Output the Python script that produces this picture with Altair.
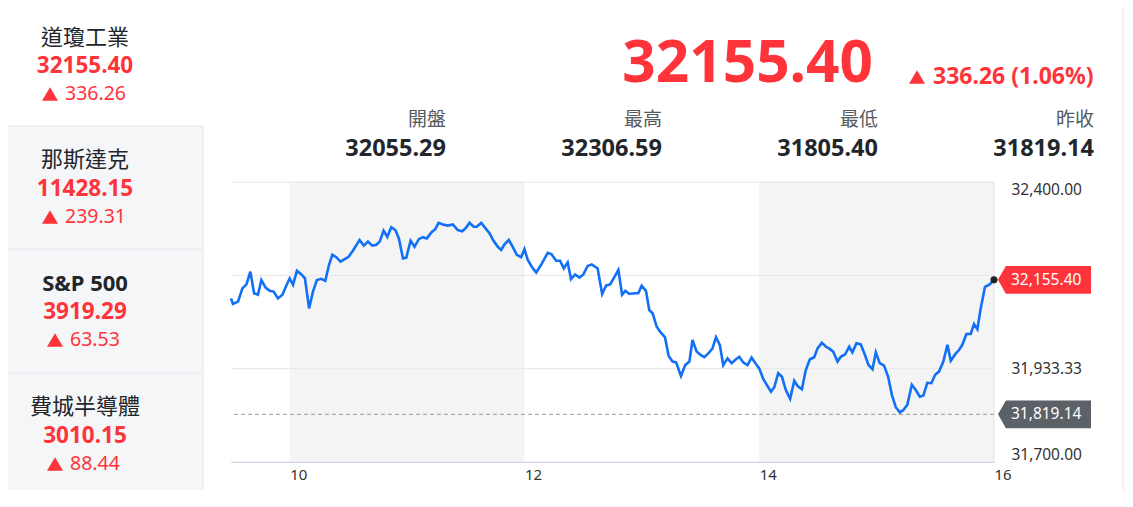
import altair as alt
import pandas as pd

# ---------------- data ----------------
# intraday trace: minutes after 09:30 and index level
minutes = [0, 1.0, 3.6, 5.8, 7.9, 9.9, 11.8, 13.8, 15.5, 17.7, 19.8, 21.8, 24.0, 26.3, 28.0, 30.0,
           31.7, 33.7, 36.0, 37.8, 39.9, 41.9, 43.9, 46.2, 48.2, 50.1, 51.8, 53.8, 56.0, 58.1, 60.1,
           62.3, 65.7, 67.9, 70.0, 72.2, 74.3, 76.0, 78.0, 79.9, 81.9, 84.0, 85.8, 87.9, 89.6, 91.8,
           93.8, 96.0, 98.1, 100.1, 102.4, 104.4, 106.1, 108.3, 110.8, 113.4, 115.9, 118.2, 120.2,
           121.9, 124.0, 125.6, 127.9, 130.1, 132.1, 134.2, 136.4, 138.1, 139.8, 142.0, 144.0, 146.1,
           148.3, 150.0, 151.7, 153.9, 156.0, 158.5, 161.9, 163.9, 166.2, 168.2, 170.1, 172.1, 173.8,
           175.9, 178.1, 180.1, 182.3, 184.4, 187.4, 189.7, 191.7, 193.8, 196.0, 198.0, 199.9, 201.6,
           203.6, 206.2, 208.2, 209.9, 212.1, 213.8, 215.5, 217.6, 219.3, 221.8, 223.7, 225.7, 227.5,
           230.0, 232.1, 234.3, 235.9, 238.0, 240.2, 241.9, 244.1, 246.1, 247.9, 249.9, 251.6, 253.8,
           255.9, 258.1, 259.8, 261.8, 264.0, 266.1, 268.3, 270.0, 272.1, 276.0, 277.7, 279.7, 281.6,
           283.6, 285.8, 287.9, 289.6, 291.8, 293.8, 295.9, 298.1, 299.8, 302.0, 304.1, 305.7, 307.8,
           310.0, 311.7, 313.9, 316.0, 317.6, 319.7, 321.9, 324.0, 325.8, 327.9, 329.6, 331.6, 333.8,
           335.9, 337.8, 339.8, 341.9, 343.7, 345.7, 348.0, 350.0, 352.1, 353.9, 355.9, 358.0, 359.9,
           361.9, 364.1, 366.2, 367.9, 370.1, 372.1, 373.8, 375.9, 378.1, 379.8, 381.5, 383.2, 385.4,
           387.8, 390.0]
levels = [32109, 32095, 32101, 32134, 32144, 32176, 32122, 32118, 32155, 32136, 32128, 32126, 32109,
          32118, 32138, 32159, 32143, 32178, 32169, 32159, 32084, 32126, 32155, 32158, 32153, 32193,
          32218, 32212, 32201, 32207, 32213, 32228, 32255, 32241, 32251, 32241, 32243, 32251, 32278,
          32263, 32287, 32280, 32259, 32209, 32211, 32253, 32238, 32257, 32262, 32259, 32274, 32282,
          32298, 32294, 32291, 32294, 32280, 32277, 32286, 32298, 32288, 32288, 32298, 32284, 32272,
          32253, 32238, 32230, 32244, 32255, 32238, 32218, 32212, 32232, 32205, 32187, 32174, 32193,
          32223, 32219, 32203, 32203, 32184, 32199, 32157, 32169, 32161, 32169, 32190, 32194, 32184,
          32120, 32141, 32144, 32163, 32180, 32118, 32128, 32120, 32122, 32122, 32141, 32128, 32080,
          32072, 32038, 32026, 32012, 31965, 31951, 31949, 31915, 31942, 31951, 32005, 31976, 31967,
          31962, 31972, 31984, 32012, 31992, 31942, 31959, 31947, 31957, 31963, 31949, 31942, 31961,
          31945, 31934, 31907, 31876, 31887, 31922, 31913, 31880, 31858, 31903, 31890, 31882, 31930,
          31957, 31962, 31984, 31998, 31988, 31984, 31976, 31951, 31963, 31969, 31988, 31974, 31997,
          31994, 31968, 31943, 31932, 31974, 31947, 31941, 31913, 31868, 31837, 31824, 31830, 31843,
          31893, 31880, 31863, 31866, 31898, 31897, 31918, 31926, 31951, 31993, 31953, 31969, 31980,
          31993, 32020, 32020, 32045, 32032, 32084, 32138, 32144, 32155.40]

x_ticks = [10, 12, 14, 16]
y_ticks = [31700, 31933.33, 32166.67, 32400]
band_start = [10, 14]
band_end = [12, 16]
last_price = 32155.40
prev_close = 31819.14

idx_names = ["道瓊工業", "那斯達克", "S&P 500", "費城半導體"]
idx_prices = ["32155.40", "11428.15", "3919.29", "3010.15"]
idx_changes = ["336.26", "239.31", "63.53", "88.44"]

head_price = "32155.40"
head_change = "336.26 (1.06%)"
stat_labels = ["開盤", "最高", "最低", "昨收"]
stat_values = ["32055.29", "32306.59", "31805.40", "31819.14"]

# ---------------- styling ----------------
RED = "#ff333a"
DARK = "#22262b"
GREY = "#5b6167"
LATIN = "Noto Sans"
CJK = "Noto Sans CJK TC"
OX, OY = 231, 182          # page position of the plot origin
W, H = 763, 280

xs = alt.Scale(domain=[9.5, 16], nice=False, zero=False)
ys = alt.Scale(domain=[31700, 32400], nice=False, zero=False)

line_df = pd.DataFrame({"h": [9.5 + m / 60 for m in minutes], "v": levels})


def txt(s, x, y, size, color, weight="normal", align="center", font=LATIN):
    return alt.Chart(pd.DataFrame({"t": [s]})).mark_text(
        align=align, baseline="middle", fontSize=size, fontWeight=weight,
        color=color, font=font
    ).encode(x=alt.value(x - OX), y=alt.value(y - OY), text="t:N")


TRI = "M 0 -0.85 L 1 0.85 L -1 0.85 Z"


def tri(x, y, w):
    return alt.Chart(pd.DataFrame({"k": [0]})).mark_point(
        shape=TRI, filled=True, opacity=1, color=RED, size=w * w, strokeWidth=0
    ).encode(x=alt.value(x - OX), y=alt.value(y - OY))


def hrule(x1, x2, y, color="#e3e6ea"):
    return alt.Chart(pd.DataFrame({"k": [0]})).mark_rule(color=color, strokeWidth=1).encode(
        x=alt.value(x1 - OX), x2=alt.value(x2 - OX), y=alt.value(y - OY))


def vrule(x, y1, y2, color="#e3e6ea"):
    return alt.Chart(pd.DataFrame({"k": [0]})).mark_rule(color=color, strokeWidth=1).encode(
        x=alt.value(x - OX), y=alt.value(y1 - OY), y2=alt.value(y2 - OY))


layers = []

# left panel
layers.append(alt.Chart(pd.DataFrame({"k": [0]})).mark_rect(color="#f5f6f8").encode(
    x=alt.value(0 - OX), x2=alt.value(203 - OX), y=alt.value(126 - OY), y2=alt.value(497 - OY)))
for yy in [126, 249, 373, 497]:
    layers.append(hrule(0, 203, yy))
layers.append(vrule(203, 126, 497))
layers.append(vrule(1123, 3, 497))
layers.append(hrule(203, 1123, 497))

name_y = [38, 160, 284, 407]
price_y = [66, 189, 312, 436]
chg_y = [94, 217, 340, 464]
tri_x = [50, 50, 55, 55]
for i in range(4):
    is_latin = idx_names[i].isascii()
    layers.append(txt(idx_names[i], 85, name_y[i], 22, DARK,
                      weight="bold" if is_latin else "normal",
                      font=LATIN if is_latin else CJK))
    layers.append(txt(idx_prices[i], 85, price_y[i], 22.5, RED, weight="bold"))
    layers.append(tri(tri_x[i], chg_y[i], 16))
    layers.append(txt(idx_changes[i], tri_x[i] + 15, chg_y[i], 19.5, RED, align="left"))

# header
layers.append(txt(head_price, 873, 64, 58.5, RED, weight="bold", align="right"))
layers.append(tri(917, 77, 16))
layers.append(txt(head_change, 933, 77, 23, RED, weight="bold", align="left"))
stat_x = [446, 662, 878, 1094]
for i in range(4):
    layers.append(txt(stat_labels[i], stat_x[i], 120, 19, "#555a60", align="right", font=CJK))
    layers.append(txt(stat_values[i], stat_x[i], 149, 23.5, DARK, weight="bold", align="right"))

# plot bands
bands = alt.Chart(pd.DataFrame({"s": band_start, "e": band_end})).mark_rect(color="#f4f4f4").encode(
    x=alt.X("s:Q", scale=xs,
            axis=alt.Axis(values=x_ticks, format="d", labelAlign="left", labelFlush=False,
                          ticks=False, grid=False, domainColor="#ccd6eb", labelPadding=5,
                          labelFontSize=15, labelColor="#333333", labelFont=LATIN, title=None,
                          zindex=1)),
    x2="e:Q",
    y=alt.value(0), y2=alt.value(H))
layers.append(bands)

grid = alt.Chart(pd.DataFrame({"v": y_ticks})).mark_rule(color="#e6e6e6", strokeWidth=1).encode(
    y=alt.Y("v:Q", scale=ys,
            axis=alt.Axis(orient="right", values=y_ticks, format=",.2f",
                          labelExpr="(datum.value > 32100 && datum.value < 32200) ? '' : datum.label",
                          ticks=False, grid=False, domain=False, labelPadding=17,
                          labelFlush=True, labelFontSize=15.5, labelColor="#333333",
                          labelFont=LATIN, title=None)))
layers.append(grid)
# right edge of the plot area
layers.append(vrule(OX + W, OY, OY + H, color="#e2e2e2"))

prev = alt.Chart(pd.DataFrame({"v": [prev_close]})).mark_rule(
    color="#9a9a9a", strokeDash=[4, 3], strokeWidth=1).encode(y=alt.Y("v:Q", scale=ys))
layers.append(prev)

line = alt.Chart(line_df).mark_line(color="#1170f5", strokeWidth=2.6, interpolate="linear").encode(
    x=alt.X("h:Q", scale=xs), y=alt.Y("v:Q", scale=ys))
layers.append(line)

TAG = "M -1 0 L -0.83 -0.3 L 1 -0.3 L 1 0.3 L -0.83 0.3 Z"
tag_df = pd.DataFrame({"v": [last_price, prev_close], "c": [RED, GREY]})
tags = alt.Chart(tag_df).mark_point(shape=TAG, filled=True, opacity=1, size=93 * 93, strokeWidth=0).encode(
    x=alt.value(1044.5 - OX), y=alt.Y("v:Q", scale=ys), color=alt.Color("c:N", scale=None))
layers.append(tags)
tag_text = alt.Chart(tag_df).mark_text(align="left", baseline="middle", fontSize=15.5, color="white",
                                       font=LATIN).encode(
    x=alt.value(1011 - OX), y=alt.Y("v:Q", scale=ys), text=alt.Text("v:Q", format=",.2f"))
layers.append(tag_text)

dot = alt.Chart(pd.DataFrame({"h": [16.0], "v": [last_price]})).mark_point(
    shape="circle", filled=True, opacity=1, color="#222222", size=50, strokeWidth=0).encode(
    x=alt.X("h:Q", scale=xs), y=alt.Y("v:Q", scale=ys))
layers.append(dot)

chart = alt.layer(*layers).properties(
    width=W, height=H,
    autosize=alt.AutoSizeParams(type="none"),
    padding={"left": OX - 8, "top": OY - 8, "right": 1117 - (OX - 8) - W, "bottom": 28},
    background="white",
).configure_view(stroke=None)

chart.save("out.html", embed_options={"renderer": "svg", "actions": False})
